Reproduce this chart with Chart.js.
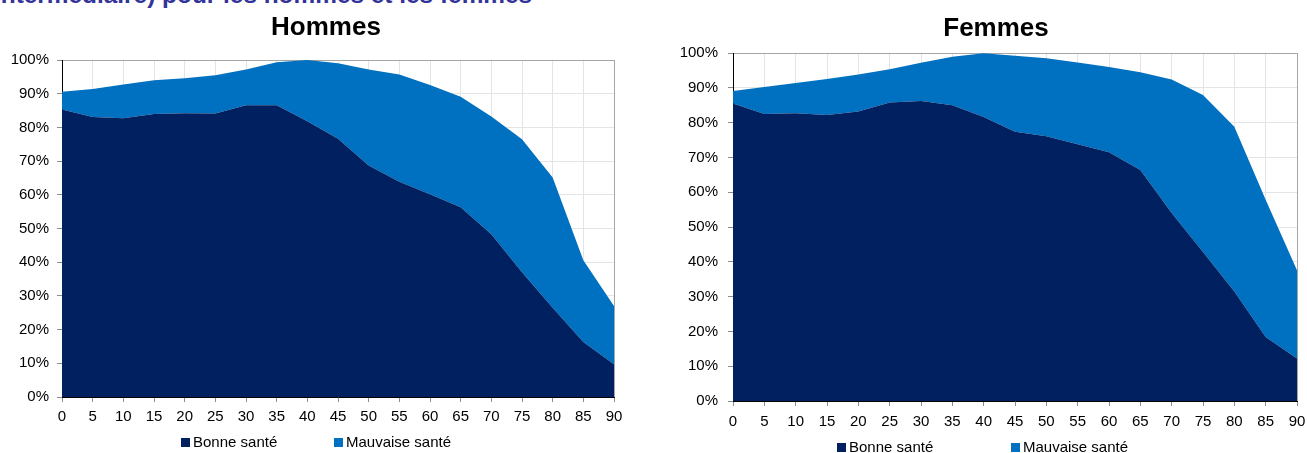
<!DOCTYPE html>
<html lang="fr">
<head>
<meta charset="utf-8">
<script src="https://cdn.jsdelivr.net/npm/chart.js@4.4.1/dist/chart.umd.min.js"></script>
<style>
  html, body { margin: 0; padding: 0; background: #fff; }
  body { width: 1307px; height: 453px; position: relative; overflow: hidden; font-family: "Liberation Sans", Arial, sans-serif; }
  #entete { position: absolute; left: -6px; top: -17px; font-size: 24.4px; line-height: 24px; font-weight: bold; color: #333399; white-space: nowrap; }
  canvas { position: absolute; top: 0; }
  #g-hommes { left: 0; }
  #g-femmes { left: 676px; }
  .titre { position: absolute; width: 200px; text-align: center; font-size: 26px; line-height: 31px; font-weight: bold; color: #000; }
  #t-hommes { left: 226px; top: 11px; }
  #t-femmes { left: 896px; top: 12px; }
  .legende { position: absolute; font-size: 15px; line-height: 15px; color: #000; white-space: nowrap; }
  .legende .carre { display: inline-block; width: 9px; height: 9px; margin-right: 3px; vertical-align: 0px; }
</style>
</head>
<body>
<div id="entete">intermédiaire) pour les hommes et les femmes</div>
<canvas id="g-hommes" width="652" height="453"></canvas>
<canvas id="g-femmes" width="640" height="453"></canvas>
<div class="titre" id="t-hommes">Hommes</div>
<div class="titre" id="t-femmes">Femmes</div>
<div id="leg-hommes"></div>
<div id="leg-femmes"></div>

<script>
// Données (en % de la population de chaque âge)
const ages = ['0','5','10','15','20','25','30','35','40','45','50','55','60','65','70','75','80','85','90'];
const series = ['Bonne santé', 'Mauvaise santé'];

const bonneHommes    = [85.3, 83.1, 82.7, 84.0, 84.2, 84.1, 86.6, 86.6, 81.8, 76.6, 68.7, 63.9, 60.2, 56.3, 48.3, 37.0, 26.5, 16.3, 9.7];
const mauvaiseHommes = [5.3, 8.3, 10.0, 10.0, 10.4, 11.4, 10.6, 12.7, 18.2, 22.4, 28.5, 31.8, 32.4, 32.8, 34.9, 39.5, 38.6, 24.3, 17.3];

const bonneFemmes    = [85.5, 82.5, 82.7, 82.2, 83.2, 85.8, 86.2, 85.0, 81.6, 77.4, 76.1, 73.8, 71.5, 66.4, 54.0, 42.8, 31.5, 18.4, 12.2];
const mauvaiseFemmes = [3.6, 7.7, 8.7, 10.3, 10.6, 9.5, 11.0, 13.9, 18.3, 21.8, 22.4, 23.5, 24.5, 28.1, 38.4, 45.1, 47.3, 39.4, 25.4];

const couleurs = ['#002060', '#0070C0'];
const police = '"Liberation Sans", Arial, sans-serif';

function creerGraphique(id, bonne, mauvaise, mise) {
  const ctx = document.getElementById(id).getContext('2d');
  return new Chart(ctx, {
    type: 'line',
    data: {
      labels: ages,
      datasets: [
        { label: series[0], data: bonne, backgroundColor: couleurs[0], borderWidth: 0, pointRadius: 0, fill: 'origin', tension: 0 },
        { label: series[1], data: mauvaise, backgroundColor: couleurs[1], borderWidth: 0, pointRadius: 0, fill: '-1', tension: 0 }
      ]
    },
    options: {
      responsive: false,
      animation: false,
      layout: { padding: { left: 0, right: mise.droite, top: mise.haut, bottom: 0 } },
      plugins: {
        legend: { display: false },
        tooltip: { enabled: false }
      },
      scales: {
        x: {
          offset: false,
          grid: {
            color: c => c.index === ages.length - 1 ? '#a6a6a6' : '#e4e4e4',
            tickColor: '#8c8c8c',
            tickLength: 5
          },
          border: { color: '#000' },
          ticks: { color: '#000', font: { family: police, size: 15 }, padding: mise.padX, maxRotation: 0, autoSkip: false },
          afterFit: s => { s.height = mise.hauteurX; }
        },
        y: {
          stacked: true,
          min: 0,
          max: 100,
          grid: {
            color: c => c.tick.value === 100 ? '#a6a6a6' : '#e4e4e4',
            tickColor: '#8c8c8c',
            tickLength: 5
          },
          border: { color: '#000' },
          ticks: { stepSize: 10, callback: v => v + '%', color: '#000', font: { family: police, size: 15 }, padding: mise.padY },
          afterFit: s => { s.width = mise.largeurY; }
        }
      }
    }
  });
}

// Légende HTML construite à partir des séries du graphique
function legende(id, chart, positions, haut) {
  const zone = document.getElementById(id);
  chart.data.datasets.forEach((ds, i) => {
    const el = document.createElement('div');
    el.className = 'legende';
    el.style.left = positions[i] + 'px';
    el.style.top = haut + 'px';
    el.innerHTML = '<span class="carre" style="background:' + ds.backgroundColor + '"></span>' + ds.label;
    zone.appendChild(el);
  });
}

const gHommes = creerGraphique('g-hommes', bonneHommes, mauvaiseHommes,
  { droite: 38, largeurY: 62, hauteurX: 56, haut: 60, padY: 8, padX: 6 });
const gFemmes = creerGraphique('g-femmes', bonneFemmes, mauvaiseFemmes,
  { droite: 19, largeurY: 57, hauteurX: 52, haut: 53, padY: 10, padX: 7 });

legende('leg-hommes', gHommes, [181, 334], 434);
legende('leg-femmes', gFemmes, [837, 1011], 439);
</script>
</body>
</html>
